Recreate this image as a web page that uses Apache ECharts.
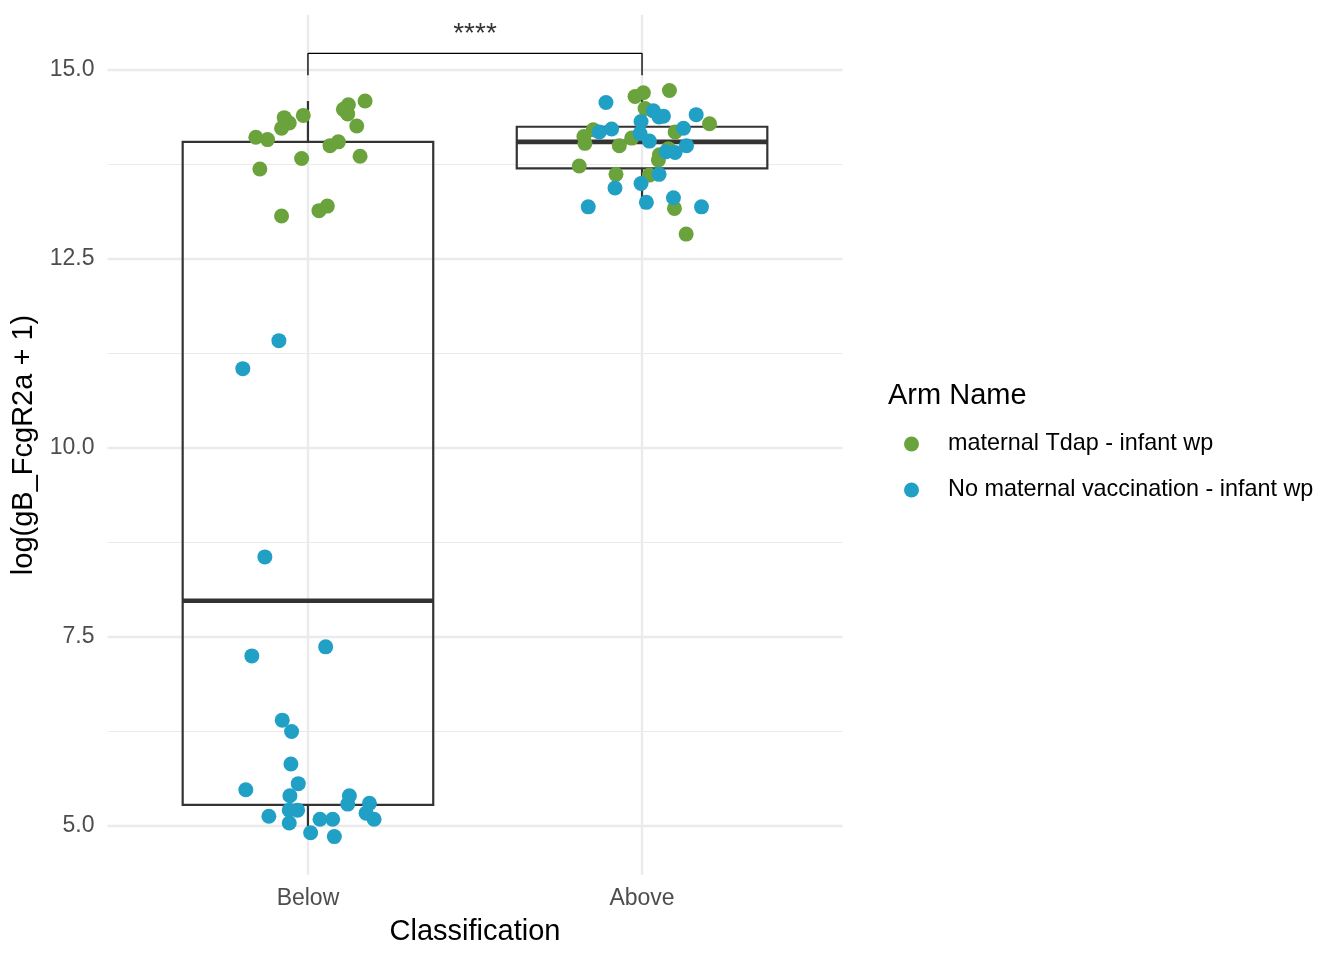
<!DOCTYPE html>
<html>
<head>
<meta charset="utf-8">
<script src="https://cdn.jsdelivr.net/npm/echarts@6/dist/echarts.min.js"></script>
<style>
  html, body { margin: 0; background: #fff; }
  #chart { width: 1344px; height: 960px; }
</style>
</head>
<body>
<div id="chart"></div>
<script>
// categories on the x axis (plotted at 1, 2)
var categories = ['Below', 'Above'];
var armNames = ['maternal Tdap - infant wp', 'No maternal vaccination - infant wp'];
var yTicks = [5, 7.5, 10, 12.5, 15];
var yMinorTicks = [6.25, 8.75, 11.25, 13.75];

// box stats per category: [lower whisker, q1, median, q3, upper whisker]
var boxStats = [
  [4.86, 5.28, 7.98, 14.05, 14.59],
  [13.17, 13.70, 14.05, 14.25, 14.73]
];

// jittered points: [jitter, value]
var tdapBelow = [
  [0.171, 14.59], [0.121, 14.54], [0.106, 14.48], [0.119, 14.42], [-0.014, 14.40],
  [-0.071, 14.37], [-0.056, 14.30], [-0.079, 14.23], [0.146, 14.26], [-0.156, 14.11],
  [-0.121, 14.08], [0.066, 14.00], [0.091, 14.05], [-0.019, 13.83], [0.156, 13.86],
  [-0.144, 13.69], [0.058, 13.20], [0.033, 13.14], [-0.079, 13.07]
];
var noVaxBelow = [
  [-0.087, 11.42], [-0.195, 11.05], [-0.129, 8.56], [-0.168, 7.25], [0.053, 7.37],
  [-0.077, 6.40], [-0.049, 6.25], [-0.051, 5.82], [-0.186, 5.48], [-0.029, 5.56],
  [-0.054, 5.40], [-0.117, 5.13], [-0.056, 5.21], [-0.031, 5.21], [-0.056, 5.04],
  [0.008, 4.91], [0.036, 5.09], [0.074, 5.09], [0.079, 4.86], [0.124, 5.40],
  [0.119, 5.29], [0.184, 5.30], [0.174, 5.17], [0.198, 5.09]
];
var tdapAbove = [
  [-0.021, 14.65], [0.004, 14.70], [0.082, 14.73], [0.009, 14.49], [0.202, 14.29],
  [-0.146, 14.21], [-0.174, 14.12], [-0.171, 14.03], [-0.068, 14.00], [-0.031, 14.10],
  [0.099, 14.18], [-0.188, 13.73], [-0.078, 13.62], [0.049, 13.81], [0.052, 13.88],
  [0.022, 13.61], [0.097, 13.17], [0.132, 12.83], [0.079, 13.96]
];
var noVaxAbove = [
  [-0.108, 14.57], [0.034, 14.46], [0.064, 14.39], [0.051, 14.38], [0.162, 14.41],
  [-0.003, 14.32], [-0.091, 14.22], [-0.128, 14.18], [-0.006, 14.16], [0.022, 14.06],
  [0.124, 14.23], [0.133, 14.00], [0.099, 13.91], [0.072, 13.92], [0.051, 13.62],
  [-0.003, 13.50], [-0.081, 13.44], [-0.161, 13.19], [0.013, 13.25], [0.094, 13.31],
  [0.178, 13.19]
];

// significance bracket between the two groups
var bracketLow = 14.93, bracketHigh = 15.22, bracketLabel = '****';

var FONT = 'Liberation Sans, Arial, Helvetica, sans-serif';
var GREEN = '#6aa33c', BLUE = '#21a0c6';

function place(points, catIndex) {
  return points.map(function (p) { return [catIndex + 1 + p[0], p[1]]; });
}

var boxData = boxStats.map(function (s, i) { return [i + 1].concat(s); });

var chart = echarts.init(document.getElementById('chart'), null, { renderer: 'canvas' });

chart.setOption({
  backgroundColor: '#fff',
  animation: false,
  textStyle: { fontFamily: FONT },
  title: {
    text: 'Arm Name', left: 883, top: 376,
    textStyle: { fontFamily: FONT, fontSize: 29, fontWeight: 'normal', color: '#000' }
  },
  legend: {
    orient: 'vertical', left: 899, top: 426,
    itemWidth: 15, itemHeight: 15, itemGap: 20,
    icon: 'circle',
    data: armNames,
    textStyle: { fontFamily: FONT, fontSize: 23.4, color: '#000', lineHeight: 26, padding: [0, 0, 0, 24] }
  },
  grid: { left: 107.5, right: 501.5, top: 15, bottom: 85 },
  xAxis: {
    type: 'value', min: 0.4, max: 2.6,
    name: 'Classification', nameLocation: 'middle', nameGap: 42,
    nameTextStyle: { fontFamily: FONT, fontSize: 29, color: '#000' },
    axisLine: { show: false },
    axisTick: { show: false, customValues: [1, 2] },
    axisLabel: {
      customValues: [1, 2], margin: 12,
      fontFamily: FONT, fontSize: 23, color: '#4d4d4d',
      formatter: function (v) { return categories[Math.round(v) - 1]; }
    },
    splitLine: { show: true, lineStyle: { color: '#ebebeb', width: 2.4 } }
  },
  yAxis: [{
    type: 'value', min: 4.352, max: 15.728,
    name: 'log(gB_FcgR2a + 1)', nameLocation: 'middle', nameGap: 63,
    nameTextStyle: { fontFamily: FONT, fontSize: 29, color: '#000' },
    axisLine: { show: false },
    axisTick: { show: false, customValues: yTicks },
    axisLabel: {
      customValues: yTicks, margin: 13,
      fontFamily: FONT, fontSize: 23, color: '#4d4d4d', padding: [5, 0, 0, 0],
      formatter: function (v) { return v.toFixed(1); }
    },
    splitLine: { show: true, lineStyle: { color: '#ebebeb', width: 2.4 } }
  }, {
    type: 'value', min: 4.352, max: 15.728, position: 'left',
    axisLine: { show: false },
    axisTick: { show: false, customValues: yMinorTicks },
    axisLabel: { show: false, customValues: yMinorTicks },
    splitLine: { show: true, lineStyle: { color: '#ebebeb', width: 1.2 } }
  }],
  series: [{
    type: 'custom',
    name: 'box',
    z: 2,
    silent: true,
    data: boxData,
    encode: { x: 0, y: [1, 2, 3, 4, 5] },
    renderItem: function (params, api) {
      var x = api.value(0);
      var lo = api.coord([x, api.value(1)]);
      var q1 = api.coord([x, api.value(2)]);
      var med = api.coord([x, api.value(3)]);
      var q3 = api.coord([x, api.value(4)]);
      var hi = api.coord([x, api.value(5)]);
      var half = api.size([0.75, 0])[0] / 2;
      var st = { stroke: '#333333', lineWidth: 2.2, fill: null };
      return {
        type: 'group',
        children: [
          { type: 'line', shape: { x1: hi[0], y1: hi[1], x2: q3[0], y2: q3[1] }, style: st },
          { type: 'line', shape: { x1: lo[0], y1: lo[1], x2: q1[0], y2: q1[1] }, style: st },
          { type: 'rect', shape: { x: q3[0] - half, y: q3[1], width: half * 2, height: q1[1] - q3[1] }, style: st },
          { type: 'line', shape: { x1: med[0] - half, y1: med[1], x2: med[0] + half, y2: med[1] },
            style: { stroke: '#333333', lineWidth: 4.6 } }
        ]
      };
    }
  }, {
    type: 'scatter',
    name: armNames[0],
    z: 3,
    symbolSize: 15,
    itemStyle: { color: GREEN, opacity: 1 },
    data: place(tdapBelow, 0).concat(place(tdapAbove, 1))
  }, {
    type: 'scatter',
    name: armNames[1],
    z: 4,
    symbolSize: 15,
    itemStyle: { color: BLUE, opacity: 1 },
    data: place(noVaxBelow, 0).concat(place(noVaxAbove, 1))
  }, {
    type: 'line',
    name: 'bracket',
    z: 5,
    silent: true,
    symbol: 'none',
    clip: false,
    lineStyle: { color: '#000', width: 1.3 },
    data: [[1, bracketLow], [1, bracketHigh], [2, bracketHigh], [2, bracketLow]]
  }, {
    type: 'scatter',
    name: 'sig',
    z: 5,
    silent: true,
    symbolSize: 0,
    clip: false,
    label: {
      show: true, position: 'top', distance: 5,
      fontFamily: FONT, fontSize: 28, color: '#000',
      formatter: function () { return bracketLabel; }
    },
    data: [[1.5, bracketHigh]]
  }]
});
</script>
</body>
</html>
